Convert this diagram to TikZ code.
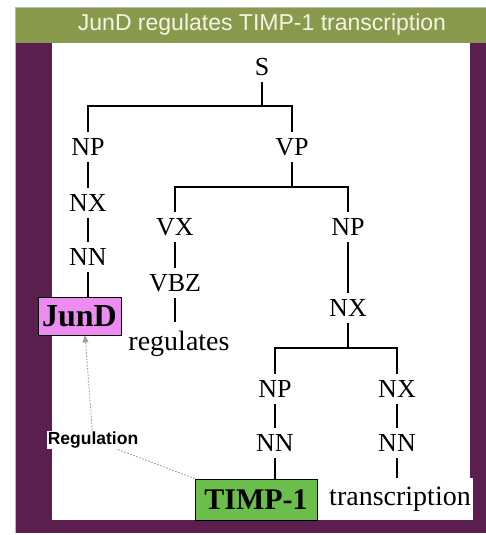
\documentclass[tikz,border=0pt]{standalone}
\usepackage{fontspec}
\setmainfont{Liberation Serif}
\newfontfamily\titlefont{Liberation Sans}
\usetikzlibrary{calc,arrows.meta}
\definecolor{headergreen}{HTML}{8A9A4C}
\definecolor{framepurple}{HTML}{5A1F4F}
\definecolor{jundfill}{HTML}{EC8CF0}
\definecolor{timpfill}{HTML}{6CBE4C}
\definecolor{titletext}{HTML}{F4F4E6}
\begin{document}
\begin{tikzpicture}[x=1pt,y=-1pt,
  cat/.style={inner xsep=2pt,inner ysep=6pt,font=\fontsize{26}{26}\selectfont},
  word/.style={inner xsep=2pt,inner ysep=9pt,font=\fontsize{28}{28}\selectfont},
  gene/.style={draw=black,line width=0.8pt,inner sep=0pt},
  branch/.style={line width=1.2pt},
  regline/.style={draw=gray!75,line width=0.9pt,dash pattern=on 1.6pt off 1.6pt,-{Triangle[width=6pt,length=7pt]}}]
% page and frame
\useasboundingbox (0,0) rectangle (486,535);
\fill[white] (0,0) rectangle (486,535);
\fill[framepurple] (15,40) rectangle (486,533);
\fill[white] (52,43) rectangle (470,520);
\fill[headergreen] (15,7) rectangle (486,43);
\draw[gray!55,line width=0.6pt] (15,533) -- (15,7) -- (486,7);
\node[text=titletext,font=\titlefont\fontsize{23}{23}\selectfont] (title) at (262,25) {JunD regulates TIMP-1 transcription};

% tree nodes
\node[cat] (s) at (262,67) {S};
\node[cat] (np1) at (88,147) {NP};
\node[cat] (vp) at (292,147) {VP};
\node[cat] (nx1) at (88,203) {NX};
\node[cat] (nn1) at (88,257) {NN};
\node[gene,fill=jundfill,minimum width=83pt,minimum height=38pt,font=\bfseries\fontsize{32}{32}\selectfont] (jund) at (79.5,316) {JunD};
\node[cat] (vx) at (175,227) {VX};
\node[cat] (np2) at (348,227) {NP};
\node[cat] (vbz) at (175,283) {VBZ};
\node[word] (regulates) at (179,344) {regulates};
\node[cat] (nx2) at (348,308) {NX};
\node[cat] (np3) at (275,389) {NP};
\node[cat] (nx3) at (397,389) {NX};
\node[cat] (nn2) at (275,443) {NN};
\node[cat] (nn3) at (397,443) {NN};
\node[gene,fill=timpfill,minimum width=122pt,minimum height=41pt,font=\bfseries\fontsize{30}{30}\selectfont] (timp) at (256,499.5) {TIMP-1};
\node[word,fill=white] (transcription) at (400,499) {transcription};

% branch bars
\coordinate (barS) at (0,106);
\coordinate (barVP) at (0,187);
\coordinate (barNX) at (0,348);

% branches
\draw[branch] (s.south) -- (s.south |- barS);
\draw[branch] (np1.north) -- (np1.north |- barS) -- (vp.north |- barS) -- (vp.north);
\draw[branch] (np1) -- (nx1);
\draw[branch] (nx1) -- (nn1);
\draw[branch] (nn1.south) -- (nn1.south |- jund.north);
\draw[branch] (vp.south) -- (vp.south |- barVP);
\draw[branch] (vx.north) -- (vx.north |- barVP) -- (np2.north |- barVP) -- (np2.north);
\draw[branch] (vx) -- (vbz);
\draw[branch] (vbz.south) -- (vbz.south |- regulates.north);
\draw[branch] (np2) -- (nx2);
\draw[branch] (nx2.south) -- (nx2.south |- barNX);
\draw[branch] (np3.north) -- (np3.north |- barNX) -- (nx3.north |- barNX) -- (nx3.north);
\draw[branch] (np3) -- (nn2);
\draw[branch] (nx3) -- (nn3);
\draw[branch] (nn2.south) -- (nn2.south |- timp.north);
\draw[branch] (nn3.south) -- (nn3.south |- transcription.north);

% regulation link
\coordinate (regpt) at (93,440);
\draw[regline] (timp.north west) -- (regpt) -- ($(jund.south)+(5.5,0)$);
\node[fill=white,inner sep=1pt,font=\titlefont\bfseries\fontsize{17.5}{17.5}\selectfont] (reg) at (regpt) {Regulation};
\end{tikzpicture}
\end{document}
